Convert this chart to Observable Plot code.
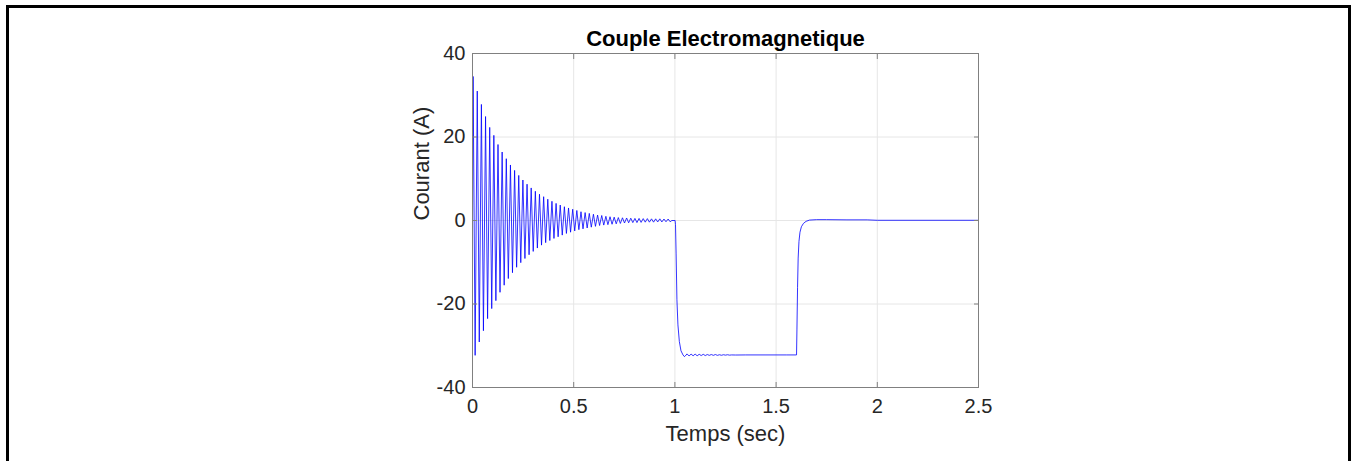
<!DOCTYPE html>
<html>
<head>
<meta charset="utf-8">
<script src="https://cdn.jsdelivr.net/npm/d3@7"></script>
<script src="https://cdn.jsdelivr.net/npm/@observablehq/plot@0.6"></script>
<style>
  html, body { margin: 0; padding: 0; background: #fff; }
  #wrap { position: relative; width: 1351px; height: 461px; overflow: hidden; }
  #chart { position: absolute; left: 0; top: 0; }
  #border { position: absolute; left: 6px; top: 5px; width: 1339px; height: 520px; border: 3px solid #000; box-sizing: content-box; pointer-events: none; }
</style>
</head>
<body>
<div id="wrap"><div id="chart"></div><div id="border"></div></div>
<script>
// ---- data ----
const titleText = "Couple Electromagnetique";
const xLabel = "Temps (sec)";
const yLabel = "Courant (A)";
const xTicks = [0, 0.5, 1, 1.5, 2, 2.5];
const yTicks = [-40, -20, 0, 20, 40];

// start-up oscillation: positive peaks
const peakT = [0.003, 0.0235, 0.044, 0.0645, 0.085, 0.1055, 0.126, 0.1465, 0.167, 0.1875, 0.208, 0.2285, 0.249, 0.2695, 0.29, 0.3105, 0.331, 0.3515, 0.372, 0.3925, 0.413, 0.4335, 0.454, 0.4745, 0.495, 0.5155, 0.536, 0.5565, 0.577, 0.5975, 0.618, 0.6385, 0.659, 0.6795, 0.70, 0.7205, 0.741, 0.7615, 0.782, 0.8025, 0.823, 0.8435, 0.864, 0.8845, 0.905, 0.9255, 0.946, 0.9665];
const peakV = [34.5, 31.0, 27.8, 24.9, 22.3, 20.4, 18.2, 16.4, 14.8, 13.3, 12.0, 10.8, 9.7, 8.7, 7.8, 7.0, 6.3, 5.7, 5.1, 4.6, 4.1, 3.7, 3.3, 3.0, 2.7, 2.4, 2.1, 1.9, 1.7, 1.5, 1.3, 1.2, 1.0, 0.9, 0.8, 0.7, 0.65, 0.6, 0.55, 0.5, 0.5, 0.45, 0.45, 0.4, 0.4, 0.4, 0.35, 0.35];
// start-up oscillation: troughs
const troughT = [0.013, 0.0335, 0.054, 0.0745, 0.095, 0.1155, 0.136, 0.1565, 0.177, 0.1975, 0.218, 0.2385, 0.259, 0.2795, 0.30, 0.3205, 0.341, 0.3615, 0.382, 0.4025, 0.423, 0.4435, 0.464, 0.4845, 0.505, 0.5255, 0.546, 0.5665, 0.587, 0.6075, 0.628, 0.6485, 0.669, 0.6895, 0.71, 0.7305, 0.751, 0.7715, 0.792, 0.8125, 0.833, 0.8535, 0.874, 0.8945, 0.915, 0.9355, 0.956, 0.9765];
const troughV = [-32.3, -29.1, -26.4, -23.5, -21.1, -19.2, -17.2, -15.5, -13.9, -12.5, -11.2, -10.1, -9.1, -8.2, -7.4, -6.6, -5.9, -5.3, -4.8, -4.3, -3.9, -3.5, -3.1, -2.8, -2.5, -2.2, -2.0, -1.8, -1.6, -1.4, -1.2, -1.1, -1.0, -0.9, -0.8, -0.7, -0.6, -0.55, -0.5, -0.5, -0.45, -0.4, -0.4, -0.4, -0.35, -0.35, -0.3, -0.3];

// load step (t = 1 s .. 1.6 s) and recovery
const stepT = [0.985, 1.001, 1.003, 1.006, 1.010, 1.015, 1.022, 1.030, 1.040, 1.047, 1.05, 1.06, 1.07, 1.08, 1.09, 1.10, 1.11, 1.12, 1.13, 1.14, 1.15, 1.16, 1.17, 1.18, 1.19, 1.20, 1.21, 1.22, 1.23, 1.24, 1.25, 1.26, 1.27, 1.28, 1.30, 1.35, 1.45, 1.55, 1.600, 1.601, 1.603, 1.606, 1.609, 1.613, 1.618, 1.625, 1.635, 1.648, 1.665, 1.70, 1.75, 1.85, 1.95, 2.0, 2.5];
const stepV = [0, 0, -1, -8, -19, -25, -29, -31.2, -32.2, -32.6, -32.5, -31.95, -32.45, -32.0, -32.4, -32.0, -32.4, -32.05, -32.35, -32.05, -32.35, -32.1, -32.3, -32.1, -32.3, -32.1, -32.3, -32.15, -32.28, -32.15, -32.25, -32.15, -32.25, -32.2, -32.22, -32.2, -32.2, -32.2, -32.2, -32.2, -26, -16, -9, -5, -2.8, -1.5, -0.7, -0.2, 0.1, 0.2, 0.2, 0.15, 0.15, 0.05, 0.05];

// ---- build table ----
const data = [{t: 0, v: 0}];
for (let i = 0; i < peakT.length; i++) {
  data.push({t: peakT[i], v: peakV[i]});
  data.push({t: troughT[i], v: troughV[i]});
}
for (let i = 0; i < stepT.length; i++) data.push({t: stepT[i], v: stepV[i]});

const axisColor = "#808080";
const textColor = "#262626";
const font = "'Liberation Sans', Arial, Helvetica, sans-serif";

const chart = Plot.plot({
  width: 1351,
  height: 461,
  marginLeft: 472,
  marginRight: 373,
  marginTop: 53,
  marginBottom: 74,
  style: {fontFamily: font, fontSize: "20px", background: "transparent", color: textColor},
  x: {domain: [0, 2.5], ticks: xTicks, label: null},
  y: {domain: [-40, 40], ticks: yTicks, label: null},
  marks: [
    Plot.gridX(xTicks, {stroke: "#e6e6e6", strokeOpacity: 1}),
    Plot.gridY(yTicks, {stroke: "#e6e6e6", strokeOpacity: 1}),
    Plot.line(data, {x: "t", y: "v", stroke: "#0000ff", strokeWidth: 0.8}),
    Plot.frame({stroke: axisColor, strokeWidth: 1}),
    Plot.axisX(xTicks, {anchor: "bottom", tickSize: -5, tickFormat: () => "", stroke: axisColor, label: null}),
    Plot.axisX(xTicks, {anchor: "top", tickSize: -5, tickFormat: () => "", stroke: axisColor, label: null}),
    Plot.axisY(yTicks, {anchor: "left", tickSize: -5, tickFormat: () => "", stroke: axisColor, label: null}),
    Plot.axisY(yTicks, {anchor: "right", tickSize: -5, tickFormat: () => "", stroke: axisColor, label: null}),
    Plot.axisX(xTicks, {anchor: "bottom", tickSize: 0, tickPadding: 11, tickFormat: d => String(d), fontSize: 20, fill: textColor, label: null}),
    Plot.axisY(yTicks, {anchor: "left", tickSize: 0, tickPadding: 7, tickFormat: d => String(d), fontSize: 20, fill: textColor, label: null}),
    Plot.text([yLabel], {text: d => d, frameAnchor: "left", rotate: -90, dx: -51, fontSize: 22, fill: textColor}),
    Plot.text([xLabel], {text: d => d, frameAnchor: "bottom", dy: 53, fontSize: 22, fill: textColor}),
    Plot.text([titleText], {text: d => d, frameAnchor: "top", lineAnchor: "middle", dy: -15, fontSize: 22, fontWeight: "bold", fill: "#000"})
  ]
});
document.getElementById("chart").appendChild(chart);
</script>
</body>
</html>
